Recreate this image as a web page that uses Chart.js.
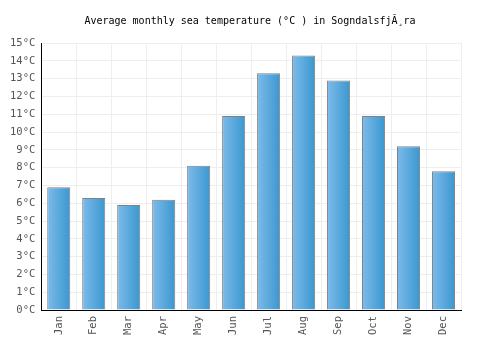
<!DOCTYPE html>
<html>
<head>
<meta charset="utf-8">
<script src="https://cdn.jsdelivr.net/npm/chart.js@4.4.0/dist/chart.umd.min.js"></script>
<style>
  html, body { margin: 0; padding: 0; background: #fff; }
  #wrap { width: 500px; height: 350px; }
</style>
</head>
<body>
<div id="wrap"><canvas id="seaChart" width="500" height="350"></canvas></div>
<script>
const months = ['Jan', 'Feb', 'Mar', 'Apr', 'May', 'Jun', 'Jul', 'Aug', 'Sep', 'Oct', 'Nov', 'Dec'];
const seaTemp = [6.9, 6.3, 5.9, 6.2, 8.1, 10.9, 13.3, 14.3, 12.9, 10.9, 9.2, 7.8];
const yMin = 0;
const yMax = 15;
const barShare = 0.66;

function barFill(context) {
    const chart = context.chart;
    const xs = chart.scales.x;
    if (!chart.chartArea || !xs) return '#5aa8e0';
    const cx = xs.getPixelForValue(context.dataIndex);
    const half = (xs.width / months.length) * barShare / 2;
    const g = chart.ctx.createLinearGradient(cx - half, 0, cx + half, 0);
    g.addColorStop(0, '#7dbbea');
    g.addColorStop(1, '#3a97d0');
    return g;
}

const mono = 'DejaVu Sans Mono';
new Chart(document.getElementById('seaChart').getContext('2d'), {
    type: 'bar',
    data: {
        labels: months,
        datasets: [{
            label: 'Sea temperature',
            data: seaTemp,
            backgroundColor: barFill,
            borderColor: '#808080',
            borderWidth: 1,
            categoryPercentage: 1,
            barPercentage: barShare
        }]
    },
    options: {
        responsive: false,
        animation: false,
        layout: { padding: { left: 4, right: 4, top: 4, bottom: 9 } },
        plugins: {
            legend: { display: false },
            tooltip: { enabled: false },
            title: {
                display: true,
                text: 'Average monthly sea temperature (°C ) in SogndalsfjÃ¸ra',
                color: '#000',
                font: { family: mono, size: 10, weight: 'normal' },
                padding: { top: 11, bottom: 16 }
            }
        },
        scales: {
            x: {
                grid: { color: '#eeeeee', offset: true, drawTicks: false },
                border: { color: '#000', width: 1 },
                ticks: {
                    color: '#555',
                    font: { family: mono, size: 10.5 },
                    maxRotation: 90,
                    minRotation: 90,
                    padding: 6
                }
            },
            y: {
                min: yMin,
                max: yMax,
                grid: { color: '#eeeeee', drawTicks: false },
                border: { color: '#000', width: 1 },
                ticks: {
                    stepSize: 1,
                    color: '#555',
                    font: { family: mono, size: 10.5 },
                    padding: 6,
                    callback: v => v + '°C'
                }
            },
            // empty right-hand axis only to reserve the right margin
            spacer: {
                position: 'right',
                min: yMin,
                max: yMax,
                grid: { display: false, drawTicks: false },
                border: { display: false },
                ticks: { display: false },
                afterFit: s => { s.width = 35; }
            }
        }
    }
});
</script>
</body>
</html>
